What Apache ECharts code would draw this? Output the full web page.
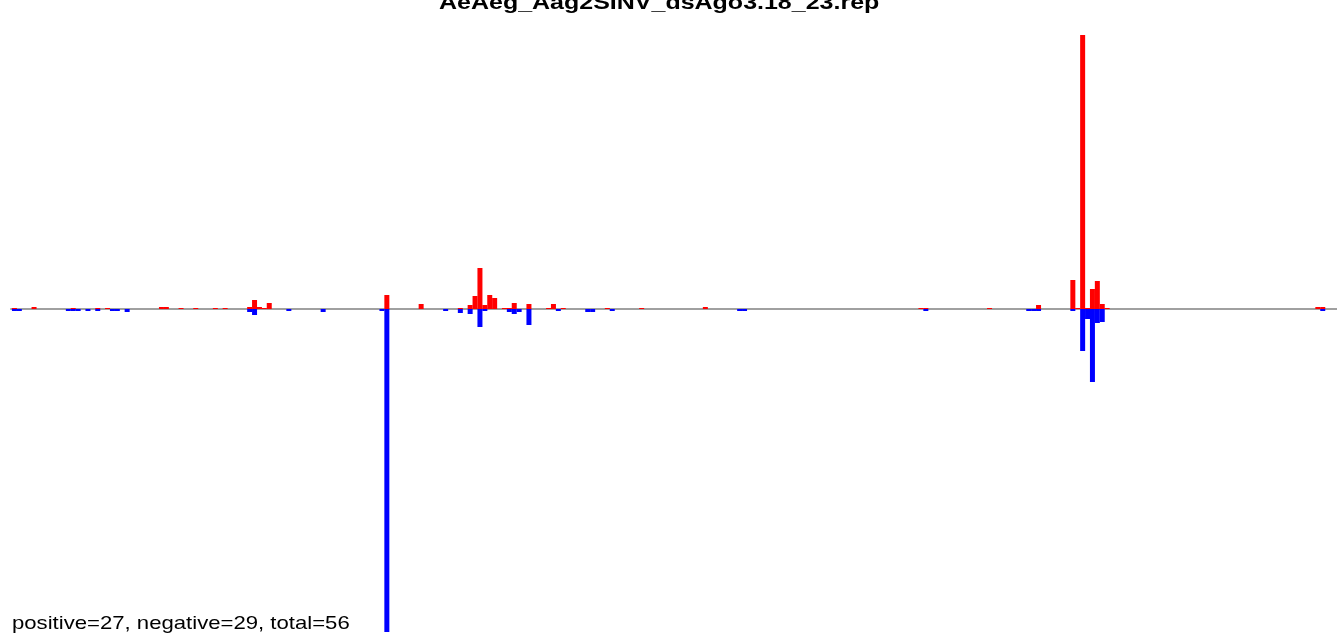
<!DOCTYPE html>
<html>
<head>
<meta charset="utf-8">
<script src="https://cdn.jsdelivr.net/npm/echarts@6/dist/echarts.min.js"></script>
<style>html,body{margin:0;padding:0;background:#fff}#c{width:1337px;height:636px}</style>
</head>
<body>
<div id="c"></div>
<script>
// Bin index along the reference sequence and read signal per bin (positive strand up, negative strand down)
const posBins = [0,4,12,17,19,30,31,34,37,41,43,48,49,50,51,52,76,83,91,93,94,95,96,97,98,100,101,102,105,109,110,112,121,128,141,185,186,199,209,216,217,218,219,220,221,222,223,266,267];
const posVals = [1,2,1,1,1,2,2,1,1,1,1,2,9,2,1,6,14,5,1,4,13,41,4,14,11,1,1,6,5,1,5,1,1,1,2,1,1,1,4,29,1,274,1,20,28,5,1,2,2];
const negBins = [0,1,11,12,13,15,17,20,21,23,48,49,56,63,75,76,88,91,93,95,96,101,102,103,105,111,117,118,122,148,149,186,207,208,209,216,218,219,220,221,222,267];
const negVals = [2,2,2,2,2,2,2,2,2,3,3,6,2,3,2,323,2,4,5,18,2,3,5,3,16,2,3,3,2,2,2,2,2,2,2,2,42,10,73,14,13,2];
const titleText = 'AeAeg_Aag2SINV_dsAgo3.18_23.rep';
const counts = {positive: 27, negative: 29, total: 56};
const footText = 'positive=' + counts.positive + ', negative=' + counts.negative + ', total=' + counts.total;

const chart = echarts.init(document.getElementById('c'), null, {renderer: 'canvas'});
chart.setOption({
  animation: false,
  backgroundColor: '#ffffff',
  grid: {left: 11, right: 0, top: 35, bottom: 4, containLabel: false},
  xAxis: {
    type: 'value', min: -0.704, max: 269.91,
    axisLine: {show: true, onZero: true, lineStyle: {color: '#a0a0a0', width: 2}},
    axisTick: {show: false}, axisLabel: {show: false}, splitLine: {show: false}
  },
  yAxis: {
    type: 'value', min: -323, max: 274,
    axisLine: {show: false}, axisTick: {show: false}, axisLabel: {show: false}, splitLine: {show: false}
  },
  series: [
    {type: 'bar', barWidth: 5, barGap: '-100%', itemStyle: {color: '#ff0000'},
     data: posBins.map((b, i) => [b, posVals[i]])},
    {type: 'bar', barWidth: 5, barGap: '-100%', itemStyle: {color: '#0000ff'},
     data: negBins.map((b, i) => [b, -negVals[i]])}
  ],
  graphic: [
    {type: 'text', x: 439, y: 3.6, scaleX: 1.19, z: 10,
     style: {text: titleText, font: 'bold 21px "Liberation Sans", Arial, sans-serif', fill: '#000', textAlign: 'left', textVerticalAlign: 'middle'}},
    {type: 'text', x: 12, y: 623.5, scaleX: 1.19, z: 10,
     style: {text: footText, font: '18.6px "Liberation Sans", Arial, sans-serif', fill: '#000', textAlign: 'left', textVerticalAlign: 'middle'}}
  ]
});
</script>
</body>
</html>
